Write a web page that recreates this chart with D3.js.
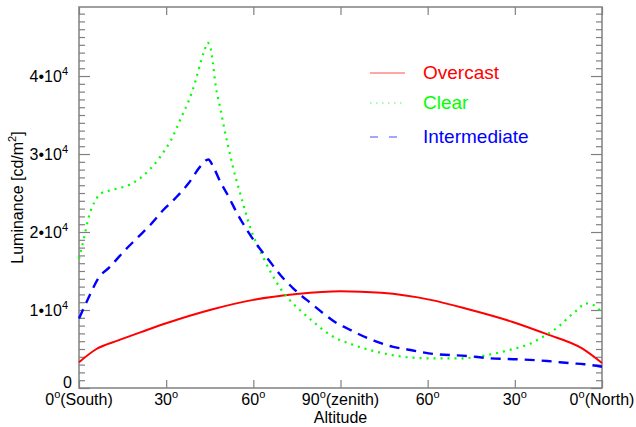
<!DOCTYPE html>
<html>
<head>
<meta charset="utf-8">
<script src="https://cdn.jsdelivr.net/npm/d3@7"></script>
<style>
  body { margin: 0; background: #fff; }
  text { font-family: "Liberation Sans", Arial, sans-serif; }
</style>
</head>
<body>
<div id="chart"></div>
<script>
// altitude in degrees measured from the south horizon (0) over the zenith (90) to the north horizon (180)
const overcast = [[0, 3300], [6, 5000], [13.5, 6100], [21.6, 7200], [30, 8300], [46, 10100], [60, 11300],
  [75, 12050], [90, 12400], [104, 12200], [121, 11300], [134, 10100], [149, 8500], [161, 6900],
  [173, 5100], [180, 3200]];
const clear = [[0, 16600], [1.7, 19200], [3.2, 21700], [4.6, 23300], [5.8, 24100], [6.9, 24800],
  [11.3, 25400], [15.5, 25800], [17.6, 26100], [21.4, 27000], [24.8, 28200], [27.6, 29450],
  [29, 30200], [31.4, 31600], [35.2, 34700], [38, 37050], [40.2, 39500], [42, 41950], [43.4, 43550],
  [44.2, 44300], [45.3, 43550], [46, 41850], [47.1, 38630], [48.6, 35940], [50, 33290], [51.5, 30730],
  [52.9, 28460], [55.3, 25170], [57.2, 22690], [59, 20470], [61, 18630], [63, 17050], [65.9, 14910],
  [69.3, 12780], [72, 11500], [76, 10000], [80, 8700], [86.5, 6800], [94.6, 5500], [103.8, 4530],
  [113, 3940], [121, 3800], [131.4, 3800], [141.7, 4320], [149, 4960], [155.5, 5720], [160.7, 6800],
  [165.3, 7950], [168.7, 9140], [172.1, 10210], [174, 10850], [176, 10800], [178, 10400], [180, 9700]];
const intermediate = [[0, 8900], [3.2, 11500], [6.7, 14100], [10.7, 15550], [15.3, 17470], [19.9, 19190],
  [24.5, 20900], [29, 22820], [33.1, 24320], [37.7, 26240], [41.7, 28380], [44.5, 29300], [46.3, 28290],
  [48.6, 26450], [51.5, 24530], [54.4, 22400], [57.8, 20260], [61.3, 18330], [65.3, 16410],
  [69.3, 14490], [73.7, 12780], [80, 10800], [85, 9300], [88.8, 8290], [91.1, 7860], [101.5, 6060],
  [107.8, 5300], [114.1, 4870], [120.4, 4440], [133.7, 4100], [141.7, 3800], [150.9, 3680],
  [161.2, 3460], [169.3, 3170], [173.9, 3040], [180, 2730]];

const xTicks = [0, 30, 60, 90, 120, 150, 180];
const xTickLabels = ['0', '30', '60', '90', '60', '30', '0'];
const xTickSuffix = ['(South)', '', '', '(zenith)', '', '', '(North)'];
const yMajor = [0, 10000, 20000, 30000, 40000];
const yMajorLabels = ['0', '1', '2', '3', '4'];
const seriesNames = ['Overcast', 'Clear', 'Intermediate'];
const seriesColors = ['#ff0000', '#00ff00', '#0000ff'];

const width = 636, height = 427;
const m = { left: 79, right: 602, top: 7, bottom: 388 };

const x = d3.scaleLinear().domain([0, 180]).range([m.left, m.right]);
const y = d3.scaleLinear().domain([0, 48850]).range([m.bottom, m.top]);

const svg = d3.select('#chart').append('svg')
  .attr('width', width)
  .attr('height', height);

const axisColor = '#808080';
const yMinor = d3.range(1000, 49000, 1000).filter(v => v % 10000 !== 0);

// left / right axes, ticks pointing inward
const leftMinor = svg.append('g').attr('transform', `translate(${m.left},0)`)
  .call(d3.axisLeft(y).tickValues(yMinor).tickSize(-6).tickFormat(''));
const leftMajor = svg.append('g').attr('transform', `translate(${m.left},0)`)
  .call(d3.axisLeft(y).tickValues(yMajor).tickSize(-11).tickFormat(''));
const rightMinor = svg.append('g').attr('transform', `translate(${m.right},0)`)
  .call(d3.axisRight(y).tickValues(yMinor).tickSize(-6).tickFormat(''));
const rightMajor = svg.append('g').attr('transform', `translate(${m.right},0)`)
  .call(d3.axisRight(y).tickValues(yMajor).tickSize(-11).tickFormat(''));
const bottomAxis = svg.append('g').attr('transform', `translate(0,${m.bottom})`)
  .call(d3.axisBottom(x).tickValues(xTicks).tickSize(-8).tickFormat(''));
const topAxis = svg.append('g').attr('transform', `translate(0,${m.top})`)
  .call(d3.axisTop(x).tickValues(xTicks).tickSize(-8).tickFormat(''));

[leftMinor, leftMajor, rightMinor, rightMajor, bottomAxis, topAxis].forEach(g => {
  g.selectAll('.domain').remove();
  g.selectAll('line').attr('stroke', axisColor).attr('stroke-width', 1.2);
});

svg.append('rect')
  .attr('x', m.left).attr('y', m.top)
  .attr('width', m.right - m.left).attr('height', m.bottom - m.top)
  .attr('fill', 'none')
  .attr('stroke', axisColor)
  .attr('stroke-width', 1.5);

// y tick labels: n•10^4
yMajor.forEach((v, i) => {
  const t = svg.append('text')
    .attr('x', i === 0 ? 72 : 68)
    .attr('y', i === 0 ? y(v) : y(v) + 6)
    .attr('text-anchor', 'end')
    .attr('font-size', 16)
    .attr('fill', '#000');
  if (i === 0) {
    t.text('0');
  } else {
    t.append('tspan').text(yMajorLabels[i] + '\u202210');
    t.append('tspan').attr('font-size', 11).attr('dy', -7).text('4');
  }
});

// x tick labels with a raised "o" for the degree sign
xTicks.forEach((v, i) => {
  const t = svg.append('text')
    .attr('x', x(v))
    .attr('y', 405)
    .attr('text-anchor', 'middle')
    .attr('font-size', 16)
    .attr('fill', '#000');
  t.append('tspan').text(xTickLabels[i]);
  t.append('tspan').attr('font-size', 11).attr('dy', -7).text('o');
  if (xTickSuffix[i]) t.append('tspan').attr('dy', 7).text(xTickSuffix[i]);
});

svg.append('text')
  .attr('x', x(90))
  .attr('y', 423)
  .attr('text-anchor', 'middle')
  .attr('font-size', 16)
  .text('Altitude');

const yTitle = svg.append('text')
  .attr('transform', `translate(23,${(m.top + m.bottom) / 2}) rotate(-90)`)
  .attr('text-anchor', 'middle')
  .attr('font-size', 16);
yTitle.append('tspan').text('Luminance [cd/m');
yTitle.append('tspan').attr('font-size', 11).attr('dy', -7).text('2');
yTitle.append('tspan').attr('dy', 7).text(']');

// curves
const line = d3.line()
  .x(d => x(d[0]))
  .y(d => y(d[1]))
  .curve(d3.curveMonotoneX);

const plot = svg.append('g');
const series = [overcast, clear, intermediate];
const dashes = [null, '2,5', '10,7'];
const widths = [2, 2.2, 2.4];

series.forEach((data, i) => {
  plot.append('path')
    .datum(data)
    .attr('d', line)
    .attr('fill', 'none')
    .attr('stroke', seriesColors[i])
    .attr('stroke-width', widths[i])
    .attr('stroke-dasharray', dashes[i]);
});

// legend
const legendY = [73, 103, 137];
const legendDash = [null, '1.5,4.5', '8,11'];
seriesNames.forEach((name, i) => {
  svg.append('line')
    .attr('x1', 370).attr('x2', 405)
    .attr('y1', legendY[i]).attr('y2', legendY[i])
    .attr('stroke', seriesColors[i])
    .attr('stroke-opacity', 0.7)
    .attr('stroke-width', 1)
    .attr('stroke-dasharray', legendDash[i]);
  svg.append('text')
    .attr('x', 423)
    .attr('y', legendY[i] + 6)
    .attr('font-size', 19)
    .attr('fill', seriesColors[i])
    .text(name);
});
</script>
</body>
</html>
